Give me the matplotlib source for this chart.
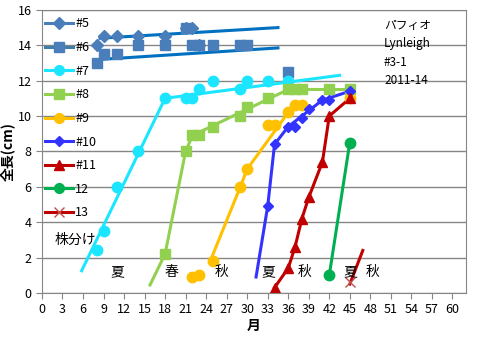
import matplotlib.pyplot as plt
from matplotlib.lines import Line2D

plt.rcParams['font.family'] = ['Noto Sans CJK JP', 'DejaVu Sans']

# 測定データ (月, 全長cm)
x5 = [8, 9, 11, 14, 18, 21, 22, 23]
y5 = [14, 14.5, 14.5, 14.5, 14.5, 15, 15, 14]
x6 = [8, 9, 11, 14, 18, 21, 22, 23, 25, 29, 30, 36]
y6 = [13, 13.5, 13.5, 14, 14, 15, 14, 14, 14, 14, 14, 12.5]
x7 = [8, 9, 11, 14, 18, 21, 22, 23, 25, 29, 30, 33, 36]
y7 = [2.4, 3.5, 6, 8, 11, 11, 11, 11.5, 12, 11.5, 12, 12, 12]
x8 = [18, 21, 22, 23, 25, 29, 30, 33, 36, 37, 38, 42, 45]
y8 = [2.2, 8, 8.9, 8.9, 9.4, 10, 10.5, 11, 11.5, 11.5, 11.5, 11.5, 11.5]
x9 = [22, 23, 25, 29, 30, 33, 34, 36, 37, 38, 45]
y9 = [0.9, 1.0, 1.8, 6, 7, 9.5, 9.5, 10.2, 10.6, 10.6, 11]
x10 = [33, 34, 36, 37, 38, 39, 41, 42, 45]
y10 = [4.9, 8.4, 9.4, 9.4, 9.9, 10.4, 10.9, 10.9, 11.4]
x11 = [34, 36, 37, 38, 39, 41, 42, 45]
y11 = [0.3, 1.4, 2.6, 4.2, 5.4, 7.4, 10, 11]
x12 = [42, 45]
y12 = [1, 8.5]
x13 = [45]
y13 = [0.6]

# 手書きの線 (傾向線)
l5x, l5y = [8.5, 34.5], [14.4, 15]
l6x, l6y = [8.5, 34.5], [13.2, 13.85]
l7x, l7y = [5.8, 18, 43.5], [1.25, 11, 12.3]
l8x, l8y = [15.8, 18, 21, 22, 36, 45], [0.45, 2.2, 8, 8.9, 11.5, 11.5]
l9x, l9y = [24.5, 29, 30, 36, 38], [1.7, 6, 7, 10.2, 10.7]
l10x, l10y = [31.3, 33, 34, 36, 38, 41, 45], [0.9, 4.9, 8.4, 9.4, 10, 10.9, 11.4]
l13x, l13y = [45, 46.9], [0.5, 2.4]

seasons = ['夏', '春', '秋', '夏', '秋', '夏', '秋']
season_x = [11.1, 18.9, 26.2, 33.1, 38.4, 45.1, 48.3]

c56 = '#4A7EBB'
c7 = '#1CE6FF'
c8 = '#92D050'
c9 = '#FFC000'
c10 = '#3333FF'
c11 = '#C00000'
c12 = '#00B050'
trend = '#0070C0'

fig = plt.figure(figsize=(4.82, 3.41), dpi=100)
ax = fig.add_axes([0.087, 0.141, 0.88, 0.83])

lw = 2.2
ax.plot(l5x, l5y, color=trend, lw=lw)
ax.plot(l6x, l6y, color=trend, lw=lw)
ax.plot(l7x, l7y, color=c7, lw=lw)
ax.plot(l8x, l8y, color=c8, lw=lw)
ax.plot(l9x, l9y, color=c9, lw=lw)
ax.plot(l10x, l10y, color=c10, lw=lw)
ax.plot(x11, y11, color=c11, lw=lw)
ax.plot(x12, y12, color=c12, lw=lw)
ax.plot(l13x, l13y, color=c11, lw=lw)

ms = 7.5
ax.plot(x5, y5, 'D', color=c56, ms=ms - 1, ls='none')
ax.plot(x6, y6, 's', color=c56, ms=ms, ls='none')
ax.plot(x7, y7, 'o', color=c7, ms=ms, ls='none')
ax.plot(x8, y8, 's', color=c8, ms=ms, ls='none')
ax.plot(x9, y9, 'o', color=c9, ms=ms, ls='none')
ax.plot(x10, y10, 'D', color=c10, ms=ms - 2, ls='none')
ax.plot(x11, y11, '^', color=c11, ms=ms, ls='none')
ax.plot(x12, y12, 'o', color=c12, ms=ms, ls='none')
ax.plot(x13, y13, 'x', color='#C0504D', ms=ms, mew=1, ls='none')

handles = [
    Line2D([], [], color=c56, marker='D', ms=6, lw=lw),
    Line2D([], [], color='#3C7EA6', marker='s', ms=7, lw=lw, mfc=c56, mec=c56),
    Line2D([], [], color=c7, marker='o', ms=7, lw=lw),
    Line2D([], [], color=c8, marker='s', ms=7, lw=lw),
    Line2D([], [], color=c9, marker='o', ms=7, lw=lw),
    Line2D([], [], color=c10, marker='D', ms=5.5, lw=lw),
    Line2D([], [], color=c11, marker='^', ms=7, lw=lw),
    Line2D([], [], color=c12, marker='o', ms=7, lw=lw),
    Line2D([], [], color=c11, marker='x', ms=7, lw=lw, mec='#C0504D'),
]
labels = ['#5', '#6', '#7', '#8', '#9', '#10', '#11', '12', '13']
ax.legend(handles, labels, loc='upper left', bbox_to_anchor=(-0.01, 1.0),
          frameon=False, fontsize=9, handlelength=2.2, handletextpad=0.2,
          labelspacing=0.85, borderaxespad=0.2)

for s, sx in zip(seasons, season_x):
    ax.text(sx, 1.2, s, fontsize=10, ha='center', va='center')
ax.text(1.9, 3.0, '株分け', fontsize=10, ha='left', va='center')
ax.text(50.0, 15.5, 'パフィオ\nLynleigh\n#3-1\n2011-14', fontsize=8.5,
        ha='left', va='top', linespacing=1.55)

ax.set_xlim(0, 62)
ax.set_ylim(0, 16)
ax.set_xticks(range(0, 61, 3))
ax.set_yticks(range(0, 17, 2))
ax.tick_params(labelsize=9, color='#868686', length=4)
ax.yaxis.grid(True, color='#868686', lw=1)
ax.set_axisbelow(True)
for sp in ax.spines.values():
    sp.set_color('#868686')

ax.set_xlabel('月', fontsize=10, fontweight='bold', labelpad=2)
ax.set_ylabel('全長(cm)', fontsize=10, fontweight='bold', labelpad=2)

plt.savefig('out.png', dpi=100)
